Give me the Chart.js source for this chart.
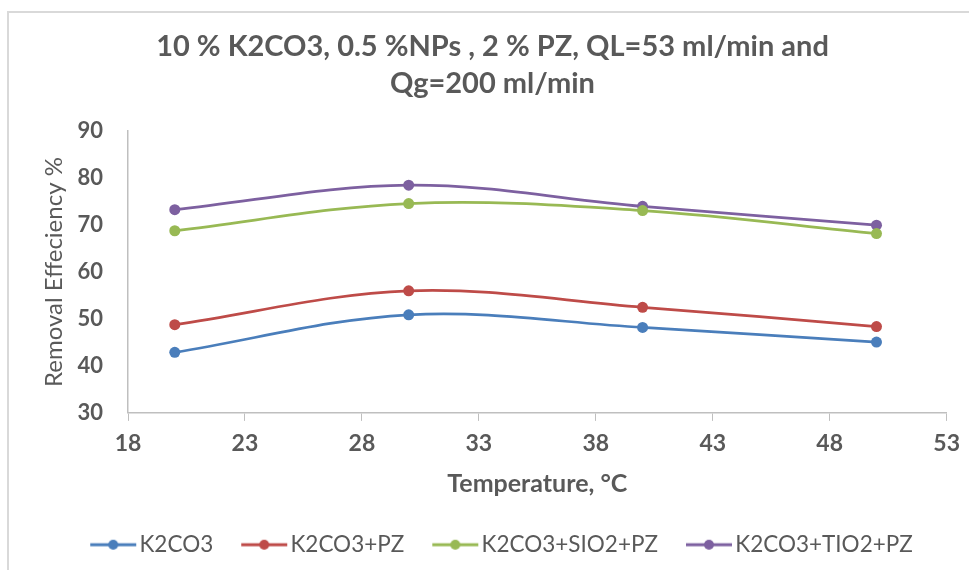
<!DOCTYPE html>
<html>
<head>
<meta charset="utf-8">
<script src="https://cdn.jsdelivr.net/npm/chart.js@4.4.1/dist/chart.umd.min.js"></script>
<style>
    html, body { margin: 0; padding: 0; background: #fff; }
    #wrap { position: relative; width: 969px; height: 570px; overflow: hidden; }
    #frame { position: absolute; left: 7px; top: 11px; width: 1000px; height: 600px;
             border-left: 2px solid #d9d9d9; border-top: 2px solid #d9d9d9; }
    canvas { position: absolute; left: 0; top: 0; }
</style>
</head>
<body>
<div id="wrap">
    <div id="frame"></div>
    <canvas id="lineChart" width="969" height="570"></canvas>
</div>
<script>
// data
var temperatures = [20, 30, 40, 50];
var k2co3 = [42.9, 50.9, 48.2, 45.1];
var k2co3Pz = [48.8, 56.0, 52.5, 48.4];
var k2co3SiO2Pz = [68.8, 74.6, 73.1, 68.2];
var k2co3TiO2Pz = [73.3, 78.5, 74.0, 70.0];

var seriesNames = ['K2CO3', 'K2CO3+PZ', 'K2CO3+SIO2+PZ', 'K2CO3+TIO2+PZ'];
var seriesColors = ['#4a7ebb', '#be4b48', '#98b954', '#7d60a0'];
var seriesValues = [k2co3, k2co3Pz, k2co3SiO2Pz, k2co3TiO2Pz];

var fontFamily = "Lato, 'Open Sans', 'DejaVu Sans', sans-serif";
var textColor = '#595959';

// legend marker: short line with a dot, like the excel legend
// canvas is wider than the legend box so the line sits close to the text
function legendMarker(color) {
    var c = document.createElement('canvas');
    c.width = 74;
    c.height = 14;
    var ctx = c.getContext('2d');
    ctx.strokeStyle = color;
    ctx.lineWidth = 3;
    ctx.beginPath();
    ctx.moveTo(27, 7);
    ctx.lineTo(73, 7);
    ctx.stroke();
    ctx.fillStyle = color;
    ctx.beginPath();
    ctx.arc(50, 7, 5, 0, Math.PI * 2);
    ctx.fill();
    return c;
}

var datasets = seriesNames.map(function(name, i) {
    return {
        label: name,
        data: temperatures.map(function(t, j) { return { x: t, y: seriesValues[i][j] }; }),
        borderColor: seriesColors[i],
        backgroundColor: seriesColors[i],
        borderWidth: 2.75,
        pointRadius: 5.5,
        pointHoverRadius: 5.5,
        pointBorderWidth: 0,
        tension: 0.35,
        markerImg: legendMarker(seriesColors[i])
    };
});

new Chart(document.getElementById('lineChart'), {
    type: 'line',
    data: { datasets: datasets },
    options: {
        responsive: false,
        animation: false,
        layout: { padding: { left: 30, right: 14, top: 0, bottom: 4 } },
        plugins: {
            title: {
                display: true,
                text: ['10 % K2CO3, 0.5 %NPs , 2 % PZ, QL=53 ml/min and', 'Qg=200 ml/min'],
                color: textColor,
                font: { family: fontFamily, size: 29, weight: 'bold', lineHeight: 1.28 },
                padding: { top: 28, bottom: 29 }
            },
            legend: {
                position: 'bottom',
                labels: {
                    usePointStyle: true,
                    pointStyleWidth: 56,
                    padding: 10,
                    color: textColor,
                    font: { family: fontFamily, size: 22.5 },
                    generateLabels: function(chart) {
                        return chart.data.datasets.map(function(ds, i) {
                            return {
                                text: ds.label,
                                pointStyle: ds.markerImg,
                                fillStyle: ds.borderColor,
                                strokeStyle: ds.borderColor,
                                fontColor: textColor,
                                lineWidth: 0,
                                datasetIndex: i
                            };
                        });
                    }
                }
            },
            tooltip: { enabled: false }
        },
        scales: {
            x: {
                type: 'linear',
                min: 18,
                max: 53,
                ticks: {
                    stepSize: 5,
                    color: textColor,
                    padding: 9,
                    font: { family: fontFamily, size: 23, weight: 'bold' }
                },
                grid: { drawOnChartArea: false, drawTicks: true, tickLength: 8, color: '#bfbfbf' },
                border: { color: '#bfbfbf', width: 1.5 },
                title: {
                    display: true,
                    text: 'Temperature, °C',
                    color: textColor,
                    font: { family: fontFamily, size: 25, weight: 'bold' },
                    padding: { top: 2, bottom: 25 }
                }
            },
            y: {
                min: 30,
                max: 90,
                afterFit: function(scale) {
                    // keep the axis line where the reference has it
                    scale.width = 98;
                },
                ticks: {
                    stepSize: 10,
                    color: textColor,
                    padding: 25,
                    font: { family: fontFamily, size: 22, weight: 'bold' }
                },
                grid: { display: false, drawTicks: false },
                border: { color: '#bfbfbf', width: 1.5 },
                title: {
                    display: true,
                    text: 'Removal Effeciency %',
                    color: textColor,
                    font: { family: fontFamily, size: 24 },
                    padding: { top: 10, bottom: 8 }
                }
            }
        }
    }
});
</script>
</body>
</html>
